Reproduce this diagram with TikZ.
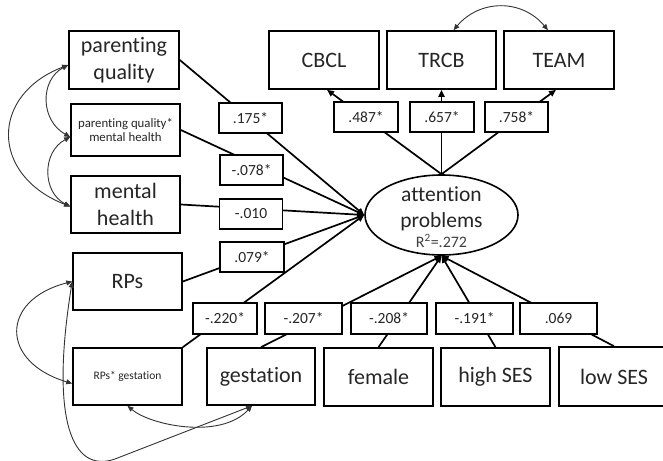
\documentclass[tikz,border=0pt]{standalone}
\usepackage{fontspec}
\setmainfont{Carlito}[Ligatures=NoCommon]
\usetikzlibrary{arrows.meta,shapes.geometric}
\begin{document}
\begin{tikzpicture}[x=1pt,y=-1pt,
  box/.style={draw=black,line width=1.6pt,fill=white,inner sep=0pt,minimum width=109pt,minimum height=57pt,font=\fontsize{22}{27}\selectfont,align=center,text=black!85},
  smallbox/.style={box,font=\fontsize{12}{14}\selectfont},
  coef/.style={draw=black,line width=1.5pt,fill=white,inner sep=0pt,minimum width=63pt,minimum height=30pt,font=\fontsize{15.5}{18}\selectfont,text=black!85},
  reg/.style={line width=1.7pt,-{Triangle[length=7pt,width=6pt]}},
  cov/.style={line width=0.9pt,draw=black!80,{Triangle[length=6pt,width=5pt]}-{Triangle[length=6pt,width=5pt]}}
]
\useasboundingbox (0,0) rectangle (663,460);
\clip (0,0) rectangle (663,460);

% observed variables
\node[box,minimum width=110pt,minimum height=58pt] (pq) at (124,60) {parenting\\quality};
\node[smallbox,minimum height=52pt,font=\fontsize{12.8}{14.5}\selectfont] (pqmh) at (125.5,130) {parenting quality*\\mental health};
\node[box] (mh) at (125.5,204.5) {mental\\health};
\node[box] (rps) at (127.5,281.5) {RPs};
\node[smallbox,font=\fontsize{11.5}{13.5}\selectfont] (rpsg) at (127.5,376.5) {RPs* gestation};
\node[box,minimum width=108pt] (gest) at (261,376.5) {gestation};
\node[box,minimum height=58pt] (fem) at (378.5,377) {female};
\node[box,minimum height=58pt] (hses) at (495.5,377) {high SES};
\node[box,minimum width=110pt,minimum height=59pt] (lses) at (614,376.5) {low SES};
\node[box,minimum width=110pt,minimum height=58pt] (cbcl) at (324,60) {CBCL};
\node[box,minimum height=58pt] (trcb) at (441.5,60) {TRCB};
\node[box,minimum width=110pt,minimum height=58pt] (team) at (559,60) {TEAM};

% latent variable
\node[ellipse,draw=black,line width=1.6pt,fill=white,minimum width=153pt,minimum height=80pt,inner sep=0pt] (ap) at (441.5,215) {};
\node[align=center,inner sep=0pt,text=black!85,font=\fontsize{21.5}{26}\selectfont] (aptext) at (441.5,217) {attention\\problems\\[-6pt]{\fontsize{16}{18}\selectfont\color{black!75}R\textsuperscript{2}=.272}};

% regression paths
\foreach \s in {pq,pqmh,mh,rps} \draw[reg] (\s.east) -- (ap.west);
\draw[reg] (rpsg.north east) -- (ap.west);
\foreach \s in {gest,fem,hses,lses} \draw[reg] (\s.north) -- (ap.south);
\draw[reg] (ap.north) -- ([xshift=3pt]cbcl.south);
\draw[reg] (ap.north) -- (trcb.south);
\draw[reg] (ap.north) -- ([xshift=-3pt]team.south);

% covariances
\draw[cov] ([yshift=-5pt]pq.west) .. controls (40,80) and (40,120) .. ([yshift=-7pt]pqmh.west);
\draw[cov] ([yshift=-7pt]pqmh.west) .. controls (42,152) and (42,192) .. ([yshift=-2pt]mh.west);
\draw[cov] ([yshift=-5pt]pq.west) .. controls (-10,95) and (-10,175) .. ([yshift=-2pt]mh.west);
\draw[cov] (rps.west) .. controls (0,300) and (0,362) .. ([yshift=-7pt]rpsg.west);
\draw[cov] (rps.west) .. controls (50,420) and (72,474) .. (115,459) -- ([xshift=-9pt]gest.south);
\draw[cov] (rpsg.south) .. controls (150,425) and (220,440) .. ([xshift=-9pt]gest.south);
\draw[cov] ([xshift=12pt]trcb.north) .. controls (480,-1) and (522,-1) .. ([xshift=-11pt]team.north);

% coefficients
\node[coef] (c175) at (250.5,118) {.175*};
\node[coef] (c078) at (251.5,170) {-.078*};
\node[coef] (c010) at (251,214) {-.010};
\node[coef,minimum width=64pt] (c079) at (252,257) {.079*};
\node[coef,minimum width=64pt,minimum height=31pt] (c220) at (225,318.5) {-.220*};
\node[coef,minimum width=77pt,minimum height=31pt] (c207) at (303.5,318.5) {-.207*};
\node[coef,minimum width=76pt,minimum height=31pt] (c208) at (389,318.5) {-.208*};
\node[coef,minimum width=77pt,minimum height=31pt] (c191) at (474.5,318.5) {-.191*};
\node[coef,minimum width=77pt,minimum height=31pt] (c069) at (558.5,318.5) {.069};
\node[coef,minimum width=64pt] (c487) at (366,117) {.487*};
\node[coef,minimum width=64pt] (c657) at (442,117) {.657*};
\node[coef,minimum width=63pt] (c758) at (516.5,117) {.758*};
\end{tikzpicture}
\end{document}
